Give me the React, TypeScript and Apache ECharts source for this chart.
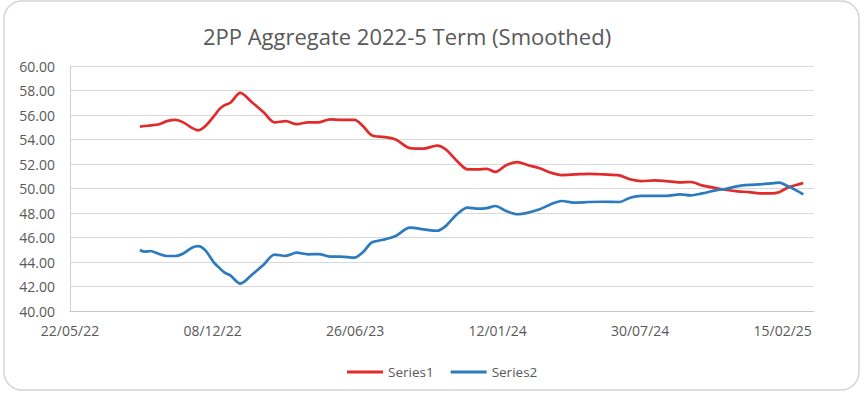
import React, { useEffect, useRef } from "react";
import * as echarts from "echarts";

const TITLE = "2PP Aggregate 2022-5 Term (Smoothed)";
const AXIS_START = "2022-05-22";
const AXIS_END = "2025-03-31";
const TICK_DAYS = 200;

const dates = [
  "2022-08-28", "2022-09-04", "2022-09-12", "2022-09-24", "2022-10-05", "2022-10-17", "2022-10-28", "2022-11-09", "2022-11-18", "2022-11-28",
  "2022-12-10", "2022-12-18", "2022-12-25", "2023-01-02", "2023-01-16", "2023-02-02", "2023-02-18", "2023-03-05", "2023-03-21", "2023-04-05",
  "2023-04-21", "2023-05-06", "2023-05-22", "2023-06-06", "2023-06-25", "2023-07-07", "2023-07-19", "2023-07-30", "2023-08-07", "2023-08-22",
  "2023-09-11", "2023-09-30", "2023-10-19", "2023-10-31", "2023-11-16", "2023-12-01", "2023-12-16", "2023-12-28", "2024-01-09", "2024-01-24",
  "2024-02-09", "2024-02-24", "2024-03-11", "2024-03-26", "2024-04-11", "2024-04-30", "2024-05-19", "2024-06-08", "2024-07-01", "2024-07-16",
  "2024-08-01", "2024-08-20", "2024-09-05", "2024-09-24", "2024-10-09", "2024-10-25", "2024-11-13", "2024-11-29", "2024-12-14", "2024-12-30",
  "2025-01-14", "2025-01-30", "2025-02-10", "2025-02-22", "2025-03-06", "2025-03-16",
];

const series1 = [
  55.05, 55.1, 55.15, 55.25, 55.5, 55.6, 55.4, 54.95, 54.75, 55.1,
  55.9, 56.5, 56.8, 57.0, 57.8, 57.0, 56.2, 55.4, 55.5, 55.25,
  55.4, 55.4, 55.65, 55.6, 55.6, 55.1, 54.35, 54.23, 54.2, 54.0,
  53.3, 53.25, 53.5, 53.2, 52.25, 51.56, 51.56, 51.6, 51.35, 51.9,
  52.16, 51.9, 51.65, 51.3, 51.1, 51.15, 51.2, 51.15, 51.07, 50.75,
  50.6, 50.67, 50.6, 50.5, 50.53, 50.26, 50.04, 49.88, 49.77, 49.7,
  49.6, 49.6, 49.7, 50.07, 50.28, 50.45,
];

const series2 = [
  44.98, 44.84, 44.9, 44.65, 44.49, 44.49, 44.7, 45.17, 45.3, 44.95,
  43.95, 43.5, 43.13, 42.9, 42.23, 43.0, 43.8, 44.6, 44.5, 44.76,
  44.63, 44.65, 44.44, 44.44, 44.35, 44.8, 45.58, 45.75, 45.85, 46.12,
  46.8, 46.67, 46.55, 46.93, 47.9, 48.44, 48.35, 48.4, 48.57, 48.16,
  47.9, 48.03, 48.3, 48.7, 48.98, 48.84, 48.9, 48.92, 48.9, 49.25,
  49.39, 49.39, 49.39, 49.52, 49.44, 49.6, 49.85, 49.99, 50.2, 50.3,
  50.34, 50.42, 50.48, 50.2, 49.85, 49.52,
];

const DAY = 86400000;
const parseUTC = (s: string) => {
  const [y, m, d] = s.split("-").map(Number);
  return Date.UTC(y, m - 1, d);
};
const base = parseUTC(AXIS_START);
const toDays = (s: string) => Math.round((parseUTC(s) - base) / DAY);
const fmtDay = (v: number) => {
  const dt = new Date(base + v * DAY);
  const dd = String(dt.getUTCDate()).padStart(2, "0");
  const mm = String(dt.getUTCMonth() + 1).padStart(2, "0");
  const yy = String(dt.getUTCFullYear() % 100).padStart(2, "0");
  return `${dd}/${mm}/${yy}`;
};

export default function App() {
  const ref = useRef<HTMLDivElement>(null);
  useEffect(() => {
    if (!ref.current) return;
    const chart = echarts.init(ref.current, null, { renderer: "svg" });
    const font = "'Open Sans', sans-serif";
    chart.setOption({
      animation: false,
      backgroundColor: "#ffffff",
      textStyle: { fontFamily: font },
      graphic: [
        {
          type: "rect",
          shape: { x: 4, y: 1, width: 855, height: 389, r: 18 },
          style: { fill: "none", stroke: "#d4d4d4", lineWidth: 1.5 },
          silent: true,
        },
        {
          type: "text",
          x: 407,
          y: 36,
          style: {
            text: TITLE,
            fontFamily: font,
            fontSize: 22,
            fill: "#595959",
            textAlign: "center",
            textVerticalAlign: "middle",
          },
        },
      ],
      legend: {
        data: [
          { name: "Series1", icon: "rect" },
          { name: "Series2", icon: "rect" },
        ],
        left: 342,
        top: 360,
        itemWidth: 36,
        itemHeight: 3,
        itemGap: 17,
        textStyle: { color: "#595959", fontSize: 13.5, fontFamily: font },
      },
      grid: { left: 70, right: 50, top: 66, bottom: 83, containLabel: false },
      xAxis: {
        type: "value",
        min: 0,
        max: toDays(AXIS_END),
        interval: TICK_DAYS,
        splitLine: { show: false },
        axisTick: { show: false },
        axisLine: { show: true, lineStyle: { color: "#c8c8c8", width: 1 } },
        axisLabel: {
          color: "#595959",
          fontSize: 14,
          fontFamily: font,
          margin: 12,
          showMaxLabel: false,
          formatter: (v: number) => (v % TICK_DAYS === 0 ? fmtDay(v) : ""),
        },
      },
      yAxis: {
        type: "value",
        min: 40,
        max: 60,
        interval: 2,
        axisLine: { show: true, lineStyle: { color: "#d0d0d0", width: 1 } },
        axisTick: { show: false },
        splitLine: { lineStyle: { color: "#d9d9d9", width: 1 } },
        axisLabel: {
          color: "#595959",
          fontSize: 14,
          fontFamily: font,
          margin: 15,
          formatter: (v: number) => v.toFixed(2),
        },
      },
      series: [
        {
          name: "Series1",
          type: "line",
          data: dates.map((d, i) => [toDays(d), series1[i]]),
          showSymbol: false,
          smooth: 0.3,
          lineStyle: { color: "#E02B2B", width: 2.7 },
          itemStyle: { color: "#E02B2B" },
        },
        {
          name: "Series2",
          type: "line",
          data: dates.map((d, i) => [toDays(d), series2[i]]),
          showSymbol: false,
          smooth: 0.3,
          lineStyle: { color: "#2C7BBE", width: 2.7 },
          itemStyle: { color: "#2C7BBE" },
        },
      ],
    });
    return () => chart.dispose();
  }, []);
  return (
    <div
      ref={ref}
      style={{ position: "fixed", left: 0, top: 0, width: 864, height: 394 }}
    />
  );
}
